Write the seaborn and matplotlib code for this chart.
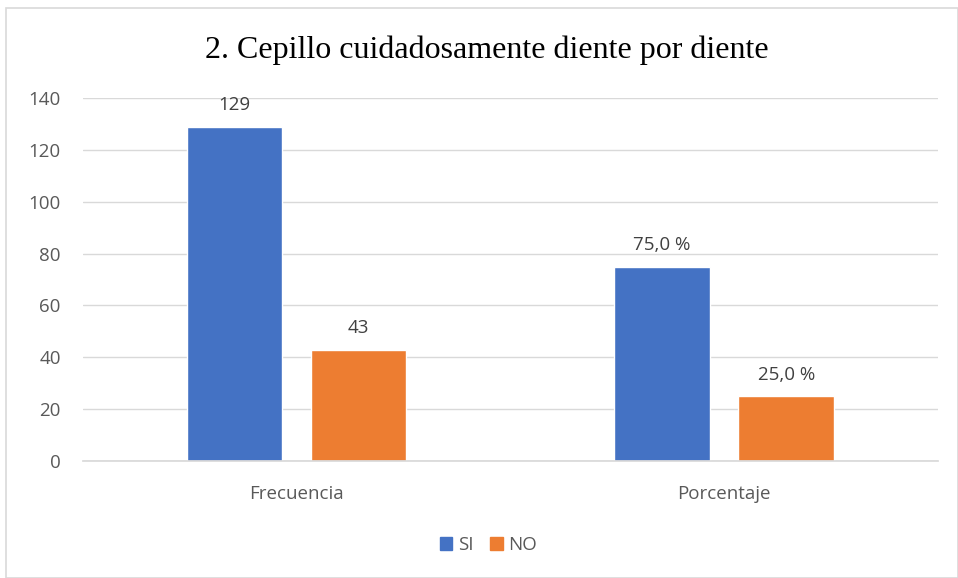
import matplotlib.pyplot as plt
import matplotlib.patches as mpatches
import pandas as pd
import seaborn as sns

categories = ["Frecuencia", "Porcentaje"]
groups = ["SI", "NO"]
si_values = [129, 75]
no_values = [43, 25]
si_labels = ["129", "75,0 %"]
no_labels = ["43", "25,0 %"]
yticks = [0, 20, 40, 60, 80, 100, 120, 140]

colors = {"SI": "#4472C4", "NO": "#ED7D31"}
text_gray = "#595959"

df = pd.DataFrame({
  "categoria": categories * 2,
  "respuesta": ["SI"] * len(categories) + ["NO"] * len(categories),
  "valor": si_values + no_values,
})

sns.set_theme(style="white")
plt.rcParams["font.family"] = ["Open Sans", "DejaVu Sans"]

fig = plt.figure(figsize=(9.58, 5.78), dpi=100)
ax = fig.add_axes([0.0866, 0.2024, 0.8924, 0.628])

sns.barplot(data=df, x="categoria", y="valor", hue="respuesta",
    hue_order=groups, palette=colors, width=0.58, gap=0.23,
    saturation=1, ax=ax, legend=False)

# Data labels
labels = {"SI": si_labels, "NO": no_labels}
for container, grp in zip(ax.containers, groups):
  ax.bar_label(container, labels=labels[grp], padding=9,
      fontsize=13.5, color="#404040")

ax.set_ylim(0, 140)
ax.set_xlim(-0.5, 1.5)
ax.set_yticks(yticks)
ax.yaxis.grid(True, color="#D9D9D9", linewidth=1)
ax.set_axisbelow(True)
for side in ["top", "right", "left"]:
  ax.spines[side].set_visible(False)
ax.spines["bottom"].set_color("#D9D9D9")
ax.tick_params(axis="y", labelsize=13.5, labelcolor=text_gray, length=0, pad=16)
ax.tick_params(axis="x", labelsize=13.5, labelcolor=text_gray, length=0, pad=17)
ax.set_xlabel("")
ax.set_ylabel("")

fig.suptitle("2. Cepillo cuidadosamente diente por diente",
    family="Liberation Serif", fontsize=23, color="black", x=0.508, y=0.938)

handles = [mpatches.Patch(color=colors[g], label=g) for g in groups]
fig.legend(handles=handles, loc="center", bbox_to_anchor=(0.51, 0.057),
    ncol=2, frameon=False, fontsize=13.5, handlelength=0.65, handleheight=0.65,
    handletextpad=0.3, columnspacing=0.9, labelcolor=text_gray)

# Chart border
fig.patches.append(mpatches.Rectangle((0.006, 0.0), 0.994, 0.986,
    transform=fig.transFigure, fill=False, edgecolor="#D9D9D9", linewidth=1.2))

fig.savefig("out.png", dpi=100)
